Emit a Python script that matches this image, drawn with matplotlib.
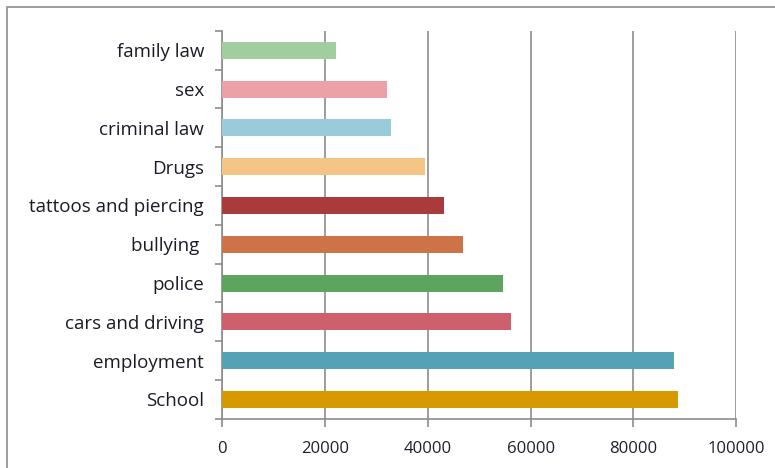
import matplotlib.pyplot as plt
import numpy as np
from matplotlib.patches import Rectangle

categories = ["School", "employment", "cars and driving", "police", "bullying ",
              "tattoos and piercing", "Drugs", "criminal law", "sex", "family law"]
values = [88700, 87800, 56200, 54700, 46900, 43200, 39500, 32900, 32100, 22200]
colors = ["#D69A00", "#55A2B4", "#CE5F6C", "#5DA45E", "#CC7448",
          "#A93B3C", "#F5C585", "#9ACBDA", "#ECA0A8", "#A2CD9F"]
x_ticks = [0, 20000, 40000, 60000, 80000, 100000]

plt.rcParams["font.family"] = ["Open Sans", "DejaVu Sans"]

fig = plt.figure(figsize=(7.75, 4.68), dpi=100)
ax = fig.add_axes([0.2865, 0.105, 0.6635, 0.829])

y = np.arange(len(categories))
ax.barh(y, values, height=0.44, color=colors, zorder=3)

ax.set_xlim(0, 100000)
ax.set_ylim(-0.5, len(categories) - 0.5)
ax.set_xticks(x_ticks)
ax.set_xticklabels([str(v) for v in x_ticks], fontsize=12, color="#1e1e30")
ax.set_yticks(y)
ax.set_yticklabels(categories, fontsize=13.5, color="#1a1a2a")
ax.set_yticks(np.arange(-0.5, len(categories), 1), minor=True)

ax.grid(axis="x", color="#8c8c8c", linewidth=1.2, zorder=0)
for s in ["top", "right"]:
    ax.spines[s].set_visible(False)
for s in ["left", "bottom"]:
    ax.spines[s].set_color("#8c8c8c")
    ax.spines[s].set_linewidth(1.2)

ax.tick_params(axis="y", which="major", length=0, pad=13)
ax.tick_params(axis="y", which="minor", length=5, color="#8c8c8c", width=1.2)
ax.tick_params(axis="x", length=6, color="#8c8c8c", width=1.2, pad=10)

# outer chart frame, cut off at right and bottom
fig.patches.append(Rectangle((7 / 775, -0.05), 1.05, 1 - 7 / 468 + 0.05,
                             transform=fig.transFigure, fill=False,
                             edgecolor="#8c8c8c", linewidth=1.2, clip_on=False))

plt.savefig("out.png", dpi=100)
